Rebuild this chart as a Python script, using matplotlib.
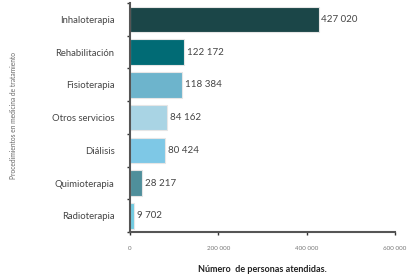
import numpy as np
import matplotlib.pyplot as plt
from matplotlib.ticker import FuncFormatter

categorias = ["Inhaloterapia", "Rehabilitación", "Fisioterapia", "Otros servicios",
              "Diálisis", "Quimioterapia", "Radioterapia"]
personas = [427020, 122172, 118384, 84162, 80424, 28217, 9702]
colores = ["#1b4648", "#016b75", "#6db4cc", "#a9d4e4", "#7ec8e6", "#4f8f9b", "#70cbe1"]
xticks = [0, 200000, 400000, 600000]


def miles(v, pos=None):
    return f"{int(v):,}".replace(",", " ")


plt.rcParams["font.family"] = ["Lato", "DejaVu Sans"]

fig = plt.figure(figsize=(4.19, 2.76), dpi=100)
ax = fig.add_axes([0.31, 0.159, 0.633, 0.83])

y = np.arange(len(categorias))
ax.barh(y, personas, height=0.78, color=colores, edgecolor="#e6e6e6", linewidth=0.8)
for yi, v in zip(y, personas):
    ax.text(v + 6000, yi, miles(v), va="center", ha="left", fontsize=7, color="#444444")

ax.set_ylim(len(categorias) - 0.5, -0.5)
ax.set_xlim(0, 600000)
ax.set_yticks(y)
ax.set_yticklabels(categorias, fontsize=6.8, color="#444444")
ax.set_yticks(np.arange(len(categorias) + 1) - 0.5, minor=True)
ax.tick_params(axis="y", which="major", length=0, pad=11)
ax.tick_params(axis="y", which="minor", length=2, width=1, color="#333333")
ax.set_xticks(xticks)
ax.xaxis.set_major_formatter(FuncFormatter(miles))
ax.tick_params(axis="x", labelsize=4.5, labelcolor="#777777", length=2, width=1,
               color="#333333", pad=8)

for s in ["top", "right"]:
    ax.spines[s].set_visible(False)
for s in ["left", "bottom"]:
    ax.spines[s].set_linewidth(1.5)
    ax.spines[s].set_color("#555555")

ax.set_xlabel("Número  de personas atendidas.", fontsize=6.5, fontweight="bold",
              color="#222222", labelpad=10)
fig.text(0.032, 0.58, "Procedimientos en medicina de tratamiento", rotation=90,
         fontsize=4.8, color="#666666", va="center", ha="center")

fig.savefig("out.png", dpi=100)
